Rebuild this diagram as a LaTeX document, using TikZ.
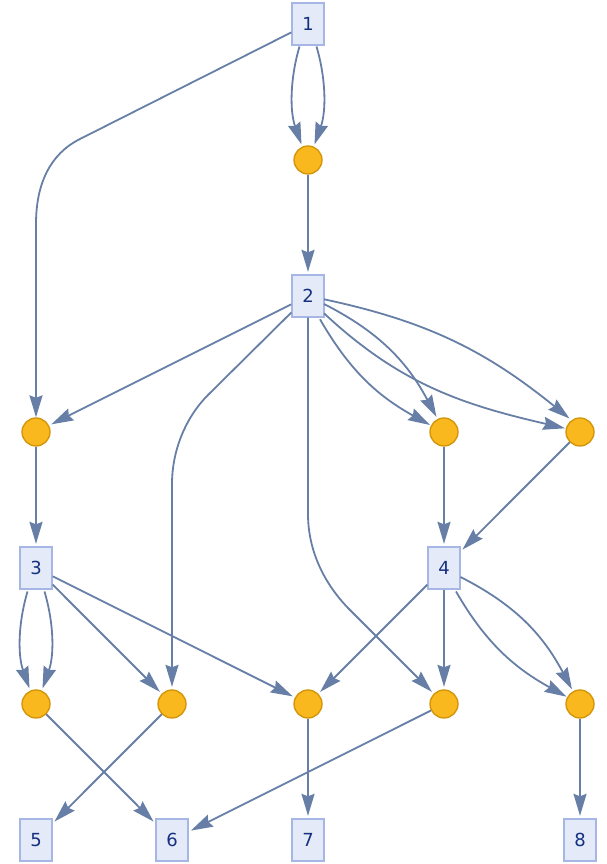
\documentclass[tikz,border=0pt]{standalone}
\usepackage{fontspec}
\setmainfont{DejaVu Sans}
\usetikzlibrary{arrows.meta,calc}
\definecolor{edgecol}{HTML}{677FA6}
\definecolor{boxfill}{HTML}{E4EAF8}
\definecolor{boxdraw}{HTML}{A6B7E6}
\definecolor{txtcol}{HTML}{15307F}
\definecolor{vfill}{HTML}{F8B81E}
\definecolor{vdraw}{HTML}{D49208}
\tikzset{
  lbox/.style={rectangle, minimum width=32pt, minimum height=42pt, inner sep=0pt,
    fill=boxfill, draw=boxdraw, line width=1.3pt, text=txtcol,
    font=\fontsize{18}{20}\selectfont},
  vdot/.style={circle, minimum size=28pt, inner sep=0pt, fill=vfill, draw=vdraw, line width=1.3pt},
  edge/.style={draw=edgecol, line width=1.8pt, -{Stealth[length=22pt,width=13pt,inset=2.5pt]}},
  sedge/.style={edge, shorten >=2.5pt}
}
\begin{document}
\begin{tikzpicture}[x=1pt,y=1pt]
\useasboundingbox (0,0) rectangle (606,864);
% nodes
\node[lbox] (n1) at (308,840) {1};
\node[vdot] (c1) at (308,704) {};
\node[lbox] (n2) at (308,568) {2};
\node[vdot] (ca) at (36,432) {};
\node[vdot] (cb) at (444,432) {};
\node[vdot] (cc) at (580,432) {};
\node[lbox] (n3) at (36,296) {3};
\node[lbox] (n4) at (444,296) {4};
\node[vdot] (d1) at (36,160) {};
\node[vdot] (d2) at (172,160) {};
\node[vdot] (d3) at (308,160) {};
\node[vdot] (d4) at (444,160) {};
\node[vdot] (d5) at (580,160) {};
\node[lbox] (n5) at (36,24) {5};
\node[lbox] (n6) at (172,24) {6};
\node[lbox] (n7) at (308,24) {7};
\node[lbox] (n8) at (580,24) {8};
% 1 -> c1 (double)
\draw[edge] ($(n1.center)+(-8.5,-22.5)$) .. controls +(-9.7,-33) and +(-11.7,33) .. ($(c1.center)+(-6.5,15.5)$);
\draw[edge] ($(n1.center)+(8.5,-22.5)$) .. controls +(9.7,-33) and +(11.7,33) .. ($(c1.center)+(6.5,15.5)$);
% 1 -> ca
\draw[edge] (n1) -- (80,725) .. controls (50,710) and (36,680) .. (36,640) -- (ca);
% c1 -> 2
\draw[sedge] (c1) -- (n2);
% 2 -> ca
\draw[sedge] (n2) -- (ca);
% 2 -> d2
\draw[sedge] (n2) -- (208,469) .. controls (186,447) and (172,414) .. (172,380) -- (d2);
% 2 -> d4
\draw[sedge] (n2) -- (308,350) .. controls (308,316) and (322,283) .. (348,256) -- (d4);
% 2 -> cb (double)
\draw[edge] ($(n2.center)+(12,-23.3)$) to[out=-60,in=151] ($(cb.center)+(-14,7)$);
\draw[edge] ($(n2.center)+(16,-8)$) to[out=-27,in=118] ($(cb.center)+(-7.5,15)$);
% 2 -> cc (double)
\draw[edge] ($(n2.center)+(16,-3.3)$) to[out=-12,in=141] ($(cc.center)+(-10.5,13.5)$);
\draw[edge] ($(n2.center)+(16,-17.3)$) to[out=-43,in=167] ($(cc.center)+(-15,3.7)$);
% ca -> 3, cb -> 4, cc -> 4
\draw[sedge] (ca) -- (n3);
\draw[sedge] (cb) -- (n4);
\draw[sedge] (cc) -- (n4);
% 3 -> d1 (double)
\draw[edge] ($(n3.center)+(-8.5,-23.5)$) .. controls +(-9.7,-33) and +(-11.7,33) .. ($(d1.center)+(-6.5,15.5)$);
\draw[edge] ($(n3.center)+(8.5,-23.5)$) .. controls +(9.7,-33) and +(11.7,33) .. ($(d1.center)+(6.5,15.5)$);
% 3 -> d2, 3 -> d3
\draw[sedge] (n3) -- (d2);
\draw[sedge] (n3) -- (d3);
% 4 -> d3, 4 -> d4
\draw[sedge] (n4) -- (d3);
\draw[sedge] (n4) -- (d4);
% 4 -> d5 (double)
\draw[edge] ($(n4.center)+(12,-23.5)$) to[out=-60,in=151] ($(d5.center)+(-13.5,7.3)$);
\draw[edge] ($(n4.center)+(16.5,-9)$) to[out=-27,in=118] ($(d5.center)+(-8,14.5)$);
% bottom layer
\draw[sedge] (d1) -- (n6);
\draw[sedge] (d2) -- (n5);
\draw[sedge] (d3) -- (n7);
\draw[sedge] (d4) -- (n6);
\draw[sedge] (d5) -- (n8);
\end{tikzpicture}
\end{document}
